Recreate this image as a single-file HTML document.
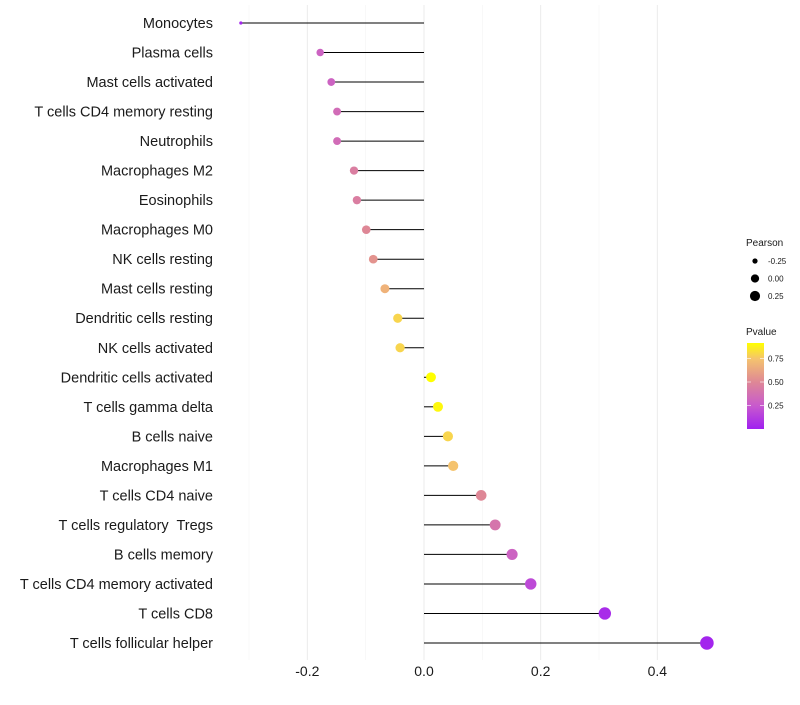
<!DOCTYPE html>
<html><head><meta charset="utf-8"><style>
body{margin:0;background:#fff;font-family:"Liberation Sans",sans-serif}
text{white-space:pre}
</style></head><body>
<svg id="chart" width="800" height="700" xmlns="http://www.w3.org/2000/svg" font-family="Liberation Sans, sans-serif"></svg>
<script>
const categories=["Monocytes","Plasma cells","Mast cells activated","T cells CD4 memory resting","Neutrophils","Macrophages M2","Eosinophils","Macrophages M0","NK cells resting","Mast cells resting","Dendritic cells resting","NK cells activated","Dendritic cells activated","T cells gamma delta","B cells naive","Macrophages M1","T cells CD4 naive","T cells regulatory  Tregs","B cells memory","T cells CD4 memory activated","T cells CD8","T cells follicular helper"];
const pearson=[-0.314,-0.178,-0.159,-0.149,-0.149,-0.120,-0.115,-0.099,-0.087,-0.067,-0.045,-0.041,0.012,0.024,0.041,0.050,0.098,0.122,0.151,0.183,0.310,0.485];
const pvalue=[0.02,0.3,0.3,0.35,0.35,0.45,0.45,0.5,0.55,0.68,0.8,0.8,0.92,0.9,0.8,0.75,0.5,0.4,0.3,0.18,0.05,0.02];
const xTicks=[-0.2,0,0.2,0.4];
const xTickLabels=["-0.2","0.0","0.2","0.4"];
const sizeLegend=[-0.25,0,0.25];
const colorTicks=[0.25,0.5,0.75];

const svg=document.getElementById('chart');
const NS="http://www.w3.org/2000/svg";
function mk(t,a,p){const e=document.createElementNS(NS,t);for(const k in a)e.setAttribute(k,a[k]);(p||svg).appendChild(e);return e;}
const x=v=>424+v*583.3;
const y=i=>23+i*(620/21);
const vmin=Math.min(...pearson),vmax=Math.max(...pearson);
const r=v=>1.6+5.2*Math.sqrt(Math.max(0,(v-vmin)/(vmax-vmin)));
function lerp(a,b,t){return a.map((c,i)=>Math.round(c+(b[i]-c)*t));}
const stops=[[0,[160,32,240]],[0.25,[200,90,205]],[0.5,[222,135,150]],[0.75,[245,195,110]],[0.92,[255,255,0]]];
function col(p){p=Math.max(0,Math.min(0.92,p));for(let i=1;i<stops.length;i++){if(p<=stops[i][0]){const t=(p-stops[i-1][0])/(stops[i][0]-stops[i-1][0]);const c=lerp(stops[i-1][1],stops[i][1],t);return `rgb(${c})`;}}return 'rgb(255,255,0)';}

for(let k=-3;k<=4;k++){
  const v=k/10;
  const major=k%2===0;
  const g=mk('line',{x1:x(v),x2:x(v),y1:5,y2:660,stroke:major?'#ebebeb':'#f4f4f4','stroke-width':major?1:0.6});
  
  
}
xTicks.forEach((v,i)=>{
  const t=mk('text',{x:x(v),y:676,'text-anchor':'middle','font-size':14,fill:'#1a1a1a'});
  t.textContent=xTickLabels[i];
  
  
});
categories.forEach((c,i)=>{
  const t=mk('text',{x:213,y:y(i)+5,'text-anchor':'end','font-size':14.5,fill:'#1a1a1a'});
  t.textContent=c;
  
  
  const l=mk('line',{x1:x(0),x2:x(pearson[i]),y1:y(i),y2:y(i),stroke:'#000','stroke-width':1});
  
  
  const d=mk('circle',{cx:x(pearson[i]),cy:y(i),r:r(pearson[i]),fill:col(pvalue[i])});
  
  
});
const lt=mk('text',{x:746,y:246,'font-size':10,fill:'#1a1a1a'});lt.textContent='Pearson';


sizeLegend.forEach((v,i)=>{
  const cy=261+i*17.5;
  const c=mk('circle',{cx:755,cy:cy,r:r(v)*0.85,fill:'#000'});
  
  
  const t=mk('text',{x:768,y:cy+3,'font-size':8,fill:'#1a1a1a'});t.textContent=v.toFixed(2);
  
  
});
const ct=mk('text',{x:746,y:335,'font-size':10,fill:'#1a1a1a'});ct.textContent='Pvalue';


const defs=mk('defs',{});
const gr=mk('linearGradient',{id:'pg',x1:0,y1:1,x2:0,y2:0},defs);
stops.forEach(s=>mk('stop',{offset:s[0]/0.92,'stop-color':`rgb(${s[1]})`},gr));
const bar=mk('rect',{x:747,y:343,width:17,height:86,fill:'url(#pg)'});


const cy=p=>429-p*94;
colorTicks.forEach(v=>{
  mk('line',{x1:747,x2:751,y1:cy(v),y2:cy(v),stroke:'#fff','stroke-width':0.6});
  mk('line',{x1:760,x2:764,y1:cy(v),y2:cy(v),stroke:'#fff','stroke-width':0.6});
  const t=mk('text',{x:768,y:cy(v)+3,'font-size':8,fill:'#1a1a1a'});t.textContent=v.toFixed(2);
  
  
});
</script>
</body></html>
